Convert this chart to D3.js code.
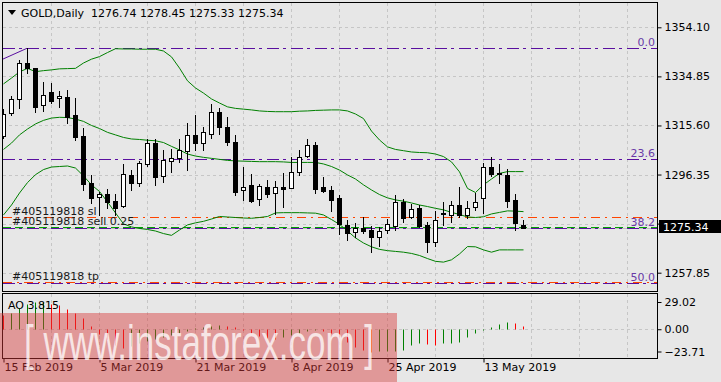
<!DOCTYPE html>
<html>
<head>
<meta charset="utf-8">
<script src="https://cdn.jsdelivr.net/npm/d3@7"></script>
<style>
  body { margin: 0; background: #e7e7e7; }
  svg { display: block; font-family: "DejaVu Sans", sans-serif; font-size: 11px; }
  .axis path.domain { display: none; }
  .axis line { stroke: #000; }
  .axis text { fill: #000; font-size: 11px; font-family: "DejaVu Sans", sans-serif; }
</style>
</head>
<body>
<svg id="chart" width="721" height="382"></svg>
<script>
const symbol = 'GOLD,Daily'

// daily candles, 15 Feb 2019 .. 20 May 2019
const opens = [1311.5,1320.4,1325.9,1340.0,1338.0,1323.5,1328.6,1326.3,1326.7,1319.6,
  1311.5,1292.9,1287.4,1288.7,1286.0,1284.0,1296.2,1292.9,1300.5,1308.6,
  1295.8,1301.7,1303.0,1305.7,1311.9,1308.6,1312.1,1321.0,1314.9,1309.0,
  1290.2,1292.3,1286.7,1291.4,1289.0,1291.4,1291.0,1297.5,1303.7,1307.9,
  1291.5,1290.3,1287.0,1276.5,1273.7,1275.4,1274.6,1272.0,1274.6,1276.3,
  1285.5,1279.8,1283.1,1276.5,1270.0,1281.4,1280.6,1284.3,1280.4,1283.5,
  1287.3,1299.2,1296.9,1296.2,1286.4,1276.74]
const highs = [1322.0,1327.2,1341.3,1345.9,1338.2,1332.7,1332.4,1329.2,1329.5,1326.3,
  1314.5,1296.2,1289.6,1290.6,1288.7,1300.5,1298.1,1301.8,1310.3,1310.2,
  1306.0,1306.3,1310.2,1316.7,1319.7,1315.1,1324.0,1322.3,1318.8,1311.9,
  1299.2,1296.5,1292.5,1294.2,1294.0,1296.9,1303.4,1306.0,1310.2,1309.0,
  1295.4,1291.9,1288.3,1278.5,1277.2,1279.6,1276.2,1275.7,1278.8,1288.3,
  1286.7,1284.7,1284.4,1277.9,1282.2,1285.7,1286.0,1291.6,1286.0,1289.0,
  1300.8,1303.1,1300.5,1298.4,1288.7,1278.45]
const lows = [1310.7,1319.8,1322.3,1336.3,1321.0,1321.3,1324.3,1323.0,1316.5,1309.9,
  1290.3,1285.1,1280.5,1283.1,1280.5,1283.7,1290.3,1291.9,1299.7,1292.3,
  1293.6,1297.5,1301.4,1298.1,1306.0,1306.0,1310.6,1312.1,1307.9,1288.3,
  1286.4,1285.7,1284.4,1287.7,1280.9,1283.8,1291.0,1296.2,1303.4,1289.2,
  1289.6,1282.2,1272.9,1270.7,1272.0,1273.6,1266.1,1268.3,1273.6,1274.6,
  1277.9,1279.4,1275.7,1266.1,1268.5,1276.6,1277.9,1279.6,1279.4,1282.5,
  1281.4,1295.8,1292.9,1283.7,1274.6,1275.33]
const closes = [1320.1,1325.9,1340.0,1338.0,1323.0,1327.4,1325.3,1327.1,1319.0,1311.2,
  1292.7,1287.3,1288.7,1285.7,1283.1,1296.5,1292.9,1300.8,1308.6,1295.5,
  1302.1,1303.0,1306.0,1311.9,1308.6,1313.2,1321.0,1314.9,1309.0,1289.6,
  1291.4,1286.1,1291.9,1288.6,1291.4,1290.7,1297.2,1303.4,1307.9,1290.8,
  1290.0,1286.4,1276.8,1273.6,1275.4,1274.3,1272.0,1274.2,1276.8,1285.5,
  1279.4,1283.0,1276.3,1270.0,1278.4,1280.8,1284.3,1280.5,1283.1,1285.6,
  1299.2,1296.5,1296.5,1286.0,1277.2,1275.34]

// bollinger bands as drawn
const bbUpper = [1331.9,1334.2,1336.6,1338.0,1336.7,1337.1,1337.4,1337.8,1337.9,1338.0,
  1340.1,1341.6,1342.6,1344.2,1345.7,1345.6,1345.6,1345.5,1345.5,1345.5,
  1344.8,1342.5,1338.1,1333.1,1330.3,1328.3,1326.0,1324.4,1322.9,1322.3,
  1322.0,1321.7,1321.3,1321.1,1321.0,1321.0,1321.0,1321.2,1321.3,1321.5,
  1321.6,1321.7,1321.7,1321.3,1320.1,1318.3,1313.4,1309.9,1307.2,1306.2,
  1305.7,1305.2,1305.0,1304.9,1304.4,1303.4,1301.3,1297.4,1290.9,1289.3,
  1292.3,1294.6,1296.8,1297.5,1297.5,1297.5]
const bbMiddle = [1306.2,1308.7,1311.9,1314.2,1316.2,1317.6,1318.5,1318.8,1318.7,1318.1,
  1317.2,1315.6,1314.4,1312.9,1311.9,1310.9,1310.3,1310.1,1309.8,1309.6,
  1308.9,1307.4,1306.0,1304.4,1303.6,1303.1,1302.7,1302.3,1301.9,1301.7,
  1301.6,1301.5,1301.4,1301.4,1301.4,1301.3,1301.1,1301.1,1301.1,1301.1,
  1300.5,1299.5,1298.1,1296.2,1294.6,1292.3,1290.3,1288.5,1287.2,1286.4,
  1285.9,1285.2,1284.4,1283.8,1283.1,1282.5,1281.5,1280.7,1279.7,1279.5,
  1279.8,1280.9,1281.5,1282.1,1282.0,1281.8]
const bbLower = [1280.5,1284.4,1289.1,1293.2,1296.3,1298.3,1299.3,1299.5,1299.7,1298.9,
  1295.8,1292.3,1289.7,1285.6,1281.3,1277.0,1275.8,1275.2,1274.8,1274.2,
  1273.2,1272.5,1274.6,1276.6,1277.4,1278.0,1278.9,1279.9,1279.7,1279.5,
  1279.3,1279.2,1279.5,1279.9,1281.3,1281.4,1281.4,1281.4,1281.3,1281.2,
  1280.5,1278.7,1276.8,1274.2,1271.5,1269.5,1268.0,1267.0,1266.5,1266.2,
  1265.9,1265.4,1264.6,1263.4,1262.3,1262.0,1262.9,1265.2,1268.1,1268.0,
  1266.8,1265.9,1266.8,1266.8,1266.8,1266.8]

// awesome oscillator
const aoValues = [15.2,16.8,22.2,27.3,28.9,29.02,27.3,25.4,21.6,17.8,
  12.1,3.2,-5.4,-10.2,-16.5,-20,-18,-15,-12,-10,
  -8,-6,-4,-2,1,2,3,4,3,2,
  -1,-4,-7,-9,-10,-8,-6,-4,-2,-1,
  -2,-4,-8,-14,-19,-22.0,-23.71,-23.7,-23.6,-22.7,
  -22.0,-16.7,-14.9,-15.2,-16.7,-14.9,-14.2,-13.1,-8.5,-4.3,
  -0.7,2.9,5.6,8.2,7.1,3.815]

const dateLabels = ['15 Feb 2019', '5 Mar 2019', '21 Mar 2019', '8 Apr 2019', '25 Apr 2019', '13 May 2019']
const dateLabelBars = [0, 12, 24, 36, 48, 60]
const priceTicks = [1257.85, 1277.10, 1296.35, 1315.60, 1334.85, 1354.10]
const aoTicks = [-23.71, 0, 29.02]

// fibonacci grid from the Aug 2018 low to the 20 Feb high
const fibHigh = 1345.87
const fibLow = 1161.5
const fibHighBar = 3
const fibLowBar = -128
const fibLevels = [0, 23.6, 38.2, 50.0]

// order #405119818
const orderId = '#405119818'
const orderOpen = 1275.6
const orderSl = 1279.6
const orderTp = 1254.3
const orderLots = 0.25

const svg = d3.select('#chart')
const plot = { left: 3, right: 657, top: 3, bottom: 291 }
const sub = { top: 294, bottom: 358 }

svg.append('rect').attr('width', 721).attr('height', 382).attr('fill', '#e7e7e7')

svg.append('defs').append('clipPath').attr('id', 'clipMain')
  .append('rect')
    .attr('x', plot.left).attr('y', plot.top)
    .attr('width', plot.right - plot.left).attr('height', plot.bottom - plot.top)

const x = d3.scaleLinear().domain([0, 65]).range([3, 523])
const y = d3.scaleLinear().domain([1257.85, 1354.10]).range([272.7, 27.3])
const yAo = d3.scaleLinear().domain([-23.71, 29.02]).range([351.5, 302])
const px = i => Math.round(x(i)) + 0.5

// grid
const gridBars = d3.range(6, 80, 6)
const grid = svg.append('g').attr('stroke', '#c6c6c6').attr('stroke-dasharray', '3,3')
grid.selectAll('line.v').data(gridBars)
  .enter().append('line')
    .attr('x1', px).attr('x2', px)
    .attr('y1', plot.top).attr('y2', plot.bottom)
grid.selectAll('line.sv').data(gridBars)
  .enter().append('line')
    .attr('x1', px).attr('x2', px)
    .attr('y1', sub.top).attr('y2', sub.bottom)
grid.selectAll('line.h').data(priceTicks)
  .enter().append('line')
    .attr('x1', plot.left).attr('x2', plot.right)
    .attr('y1', d => Math.round(y(d)) + 0.5).attr('y2', d => Math.round(y(d)) + 0.5)
grid.append('line')
  .attr('x1', plot.left).attr('x2', plot.right)
  .attr('y1', Math.round(yAo(0)) + 0.5).attr('y2', Math.round(yAo(0)) + 0.5)

const main = svg.append('g').attr('clip-path', 'url(#clipMain)')

// horizontal levels
const hline = (price, color, dash) => main.append('line')
  .attr('x1', plot.left).attr('x2', plot.right)
  .attr('y1', Math.round(y(price)) + 0.5).attr('y2', Math.round(y(price)) + 0.5)
  .attr('stroke', color).attr('stroke-dasharray', dash)

hline(closes[closes.length - 1], '#c0c0c0', null)
hline(orderOpen, '#00a000', '8,4')
hline(orderSl, '#ff4500', '9,5,2,5')
hline(orderTp, '#ff4500', '9,5,2,5')

// fibonacci
const fibPrice = l => fibHigh - (fibHigh - fibLow) * l / 100
fibLevels.forEach(l => hline(fibPrice(l), '#5a0fa0', '12,4,3,5'))
main.append('line')
  .attr('x1', x(fibLowBar)).attr('y1', y(fibLow))
  .attr('x2', x(fibHighBar)).attr('y2', y(fibHigh))
  .attr('stroke', '#5a0fa0')
svg.selectAll('text.fib').data(fibLevels)
  .enter().append('text')
    .attr('x', 655).attr('y', d => Math.round(y(fibPrice(d))) - 2)
    .attr('text-anchor', 'end')
    .attr('fill', '#6a3aa8')
    .text(d => d.toFixed(1))

// order labels
const orderText = [
  { y: Math.round(y(orderSl)) - 2, text: `${orderId} sl` },
  { y: 225, text: `${orderId} sell ${orderLots}` },
  { y: Math.round(y(orderTp)) - 2, text: `${orderId} tp` }
]
svg.selectAll('text.order').data(orderText)
  .enter().append('text')
    .attr('x', 12).attr('y', d => d.y)
    .attr('fill', '#1a1a1a')
    .text(d => d.text)

// bollinger bands
const band = d3.line().x((d, i) => x(i) + 0.5).y(d => y(d))
const bands = [bbUpper, bbMiddle, bbLower]
main.selectAll('path.band').data(bands)
  .enter().append('path')
    .attr('d', band)
    .attr('fill', 'none')
    .attr('stroke', '#008000')

// candles
const candles = main.append('g').selectAll('g').data(d3.range(opens.length))
  .enter().append('g')
candles.append('line')
  .attr('x1', px).attr('x2', px)
  .attr('y1', i => Math.round(y(highs[i]))).attr('y2', i => Math.round(y(lows[i])) + 1)
  .attr('stroke', '#000')
candles.append('rect')
  .attr('x', i => px(i) - 2)
  .attr('width', 4)
  .attr('y', i => Math.round(y(Math.max(opens[i], closes[i]))) + 0.5)
  .attr('height', i => Math.max(1, Math.round(y(Math.min(opens[i], closes[i]))) - Math.round(y(Math.max(opens[i], closes[i])))))
  .attr('fill', i => closes[i] >= opens[i] ? '#fff' : '#000')
  .attr('stroke', '#000')

// awesome oscillator
svg.append('g').selectAll('line').data(aoValues)
  .enter().append('line')
    .attr('x1', (d, i) => px(i)).attr('x2', (d, i) => px(i))
    .attr('y1', Math.round(yAo(0)) + 0.5).attr('y2', d => Math.round(yAo(d)) + 0.5)
    .attr('stroke', (d, i) => i > 0 && d > aoValues[i - 1] ? '#008000' : '#ff0000')

// frames
svg.append('rect').attr('x', 2.5).attr('y', 2.5).attr('width', 655).attr('height', 289)
  .attr('fill', 'none').attr('stroke', '#000')
svg.append('rect').attr('x', 2.5).attr('y', 293.5).attr('width', 655).attr('height', 65)
  .attr('fill', 'none').attr('stroke', '#000')

// axes
svg.append('g').classed('axis', true)
  .attr('transform', `translate(${plot.right + 0.5}, 0)`)
  .call(d3.axisRight(y).tickValues(priceTicks).tickSize(4).tickPadding(3).tickFormat(d3.format('.2f')))
svg.append('g').classed('axis', true)
  .attr('transform', `translate(${plot.right + 0.5}, 0)`)
  .call(d3.axisRight(yAo).tickValues(aoTicks).tickSize(4).tickPadding(3).tickFormat(d3.format('.2f')))
const xAxis = svg.append('g').classed('axis', true)
  .attr('transform', `translate(0, ${sub.bottom + 0.5})`)
  .call(d3.axisBottom(x).tickValues(dateLabelBars).tickSize(4).tickPadding(1)
    .tickFormat((d, i) => dateLabels[i]))
xAxis.selectAll('.tick line').attr('transform', 'translate(0.5,0)')
xAxis.selectAll('text').attr('text-anchor', 'start').attr('x', 1)

// current price box
const last = closes.length - 1
svg.append('rect').attr('x', 659).attr('y', 220).attr('width', 62).attr('height', 13).attr('fill', '#000')
svg.append('text').attr('x', 663).attr('y', 230.5).attr('fill', '#fff').text(closes[last].toFixed(2))

// header
svg.append('path').attr('d', 'M8,10 L16,10 L12,15 Z').attr('fill', '#000')
svg.append('text').attr('x', 21).attr('y', 17).attr('fill', '#000')
  .attr('xml:space', 'preserve')
  .text(`${symbol}  ${opens[last].toFixed(2)} ${highs[last].toFixed(2)} ${lows[last].toFixed(2)} ${closes[last].toFixed(2)}`)
svg.append('text').attr('x', 8).attr('y', 309).attr('fill', '#000')
  .text(`AO ${aoValues[last].toFixed(3)}`)

// watermark
svg.append('rect').attr('x', 0).attr('y', 313).attr('width', 397).attr('height', 69)
  .attr('fill', 'rgb(215,55,55)').attr('fill-opacity', 0.45)
svg.append('text')
  .attr('x', 24).attr('y', 360)
  .attr('fill', '#fff').attr('fill-opacity', 0.75)
  .attr('font-size', 50)
  .attr('font-family', 'Liberation Sans Narrow, Liberation Sans, sans-serif')
  .attr('textLength', 350).attr('lengthAdjust', 'spacingAndGlyphs')
  .attr('xml:space', 'preserve')
  .text('[ www.instaforex.com ]')
</script>
</body>
</html>
